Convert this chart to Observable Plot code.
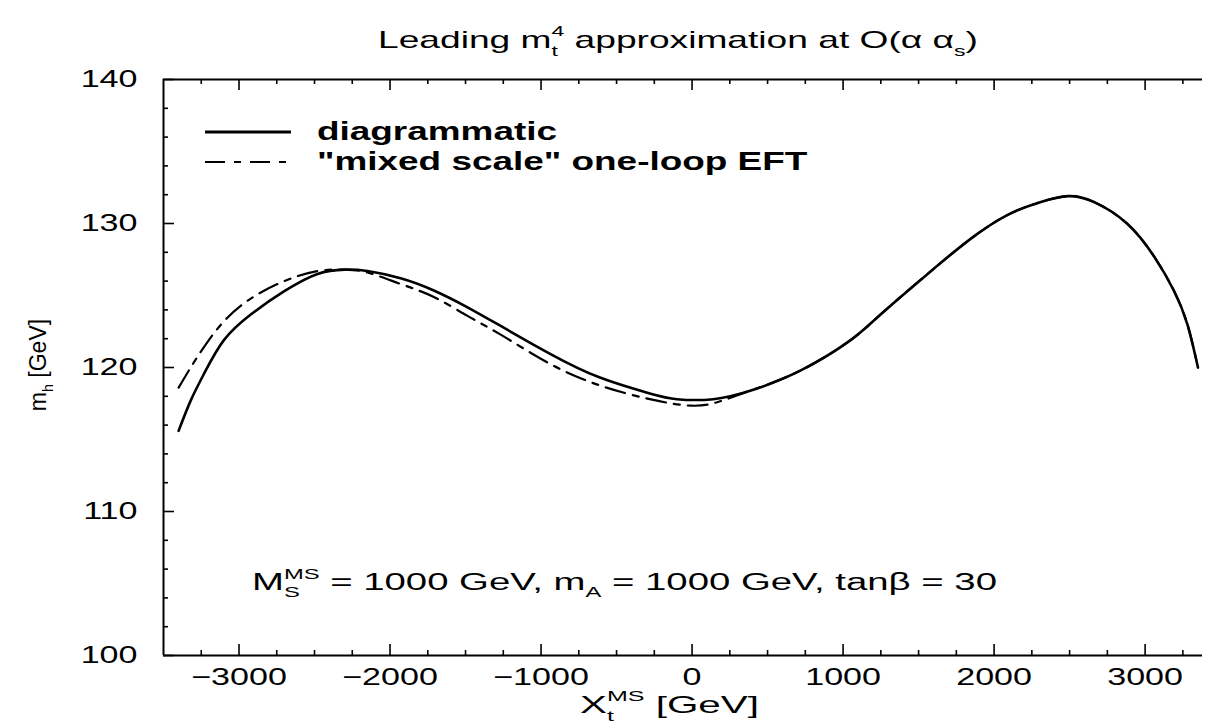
<!DOCTYPE html>
<html>
<head>
<meta charset="utf-8">
<script src="https://cdn.jsdelivr.net/npm/d3@7"></script>
<script src="https://cdn.jsdelivr.net/npm/@observablehq/plot@0.6"></script>
<style>
  body { margin: 0; background: #fff; }
  svg text { font-family: "Liberation Sans", Arial, Helvetica, sans-serif; }
</style>
</head>
<body>
<div id="chart"></div>
<script>
// Lightest Higgs mass m_h versus the stop mixing parameter X_t (MS-bar scheme)

// Full diagrammatic O(alpha alpha_s) result
const xDiag  = [-3400, -3320, -3230, -3100, -2920, -2700, -2480, -2300, -2150, -1930, -1710, -1490, -1270,
                -940, -610, -280, -100, 140, 390, 720, 1050, 1250, 1560, 1840, 2090, 2310, 2490, 2660,
                2880, 3060, 3190, 3280, 3350];
const mhDiag = [115.6, 117.7, 119.6, 121.9, 123.7, 125.3, 126.5, 126.8, 126.7, 126.2, 125.35, 124.2, 122.9,
                120.95, 119.3, 118.2, 117.8, 117.8, 118.4, 119.8, 121.9, 123.7, 126.5, 128.9, 130.6, 131.5, 131.9, 131.5,
                130.0, 127.7, 125.35, 123.0, 120.0];

// "Mixed scale" one-loop effective field theory result
const xEft  = [-3400, -3320, -3230, -3100, -2920, -2700, -2480, -2300, -2150, -1930, -1710, -1490, -1270,
               -940, -610, -280, -10, 170, 390, 720, 1050, 1250, 1560, 1840, 2090, 2310, 2490, 2660,
               2880, 3060, 3190, 3280, 3350];
const mhEft = [118.6, 120.0, 121.45, 123.2, 124.8, 126.0, 126.7, 126.8, 126.6, 125.8, 124.9, 123.6, 122.3,
               120.25, 118.75, 117.8, 117.35, 117.6, 118.4, 119.8, 121.9, 123.7, 126.5, 128.9, 130.6, 131.5, 131.9, 131.5,
               130.0, 127.7, 125.35, 123.0, 120.0];

// Axis ticks
const xMajor = [-3000, -2000, -1000, 0, 1000, 2000, 3000];
const xMinor = [-3250, -2750, -2500, -2250, -1750, -1500, -1250, -750, -500, -250,
                250, 500, 750, 1250, 1500, 1750, 2250, 2500, 2750, 3250];
const yMajor = [100, 110, 120, 130, 140];
const yMinor = [102, 104, 106, 108, 112, 114, 116, 118, 122, 124, 126, 128, 132, 134, 136, 138];

const seriesLabels = ["diagrammatic", "\"mixed scale\" one-loop EFT"];

const W = 1205, H = 725;
const mL = 163, mR = 3, mT = 79, mB = 70;
const fw = W - mL - mR, fh = H - mT - mB;
const majorLen = 11, minorLen = 5;

const diag = xDiag.map((x, i) => ({x, mh: mhDiag[i]}));
const eft  = xEft.map((x, i) => ({x, mh: mhEft[i]}));

const fmt = d => (d < 0 ? "\u2212" : "") + Math.abs(d);

const plot = Plot.plot({
  width: W, height: H,
  marginLeft: mL, marginRight: mR, marginTop: mT, marginBottom: mB,
  style: {fontSize: "24px", color: "#000", background: "#fff"},
  x: {domain: [-3500, 3380], ticks: xMajor, tickFormat: fmt, tickSize: 0, tickPadding: 12, label: null},
  y: {domain: [100, 140], ticks: yMajor, tickFormat: fmt, tickSize: 0, tickPadding: 26, label: null},
  marks: [
    // frame (right edge lies outside the drawing)
    Plot.ruleX([-3500], {strokeWidth: 2}),
    Plot.ruleY([100, 140], {strokeWidth: 2}),
    // inward ticks: left, bottom, top
    Plot.tickY(yMajor, {y: d => d, insetRight: fw - majorLen, strokeWidth: 1.6}),
    Plot.tickY(yMinor, {y: d => d, insetRight: fw - minorLen, strokeWidth: 1.6}),
    Plot.tickX(xMajor, {x: d => d, insetTop: fh - majorLen, strokeWidth: 1.6}),
    Plot.tickX(xMinor, {x: d => d, insetTop: fh - minorLen, strokeWidth: 1.6}),
    Plot.tickX(xMajor, {x: d => d, insetBottom: fh - majorLen, strokeWidth: 1.6}),
    Plot.tickX(xMinor, {x: d => d, insetBottom: fh - minorLen, strokeWidth: 1.6}),
    // curves
    Plot.line(eft, {x: "x", y: "mh", stroke: "#000", strokeWidth: 2.2,
                    strokeDasharray: "20,8,6,8", curve: "natural"}),
    Plot.line(diag, {x: "x", y: "mh", stroke: "#000", strokeWidth: 2.6, curve: "natural"})
  ]
});

document.getElementById("chart").appendChild(plot);
const svg = d3.select(plot);

// Text with sub/superscripts. parts: [text, kind] where kind is
// "" (normal), "sub", "sup", or "over" (superscript stacked above the previous subscript)
function richText(parent, parts, size, weight, anchor) {
  const t = parent.append("text")
    .attr("font-size", size).attr("font-weight", weight || "normal")
    .attr("text-anchor", anchor || "start").attr("fill", "#000");
  let off = 0, lastSub = null;
  for (const [str, kind] of parts) {
    const s = t.append("tspan").text(str);
    let target = 0;
    if (kind === "sub") { target = 0.32 * size; s.attr("font-size", 0.62 * size); }
    if (kind === "sup" || kind === "over") { target = -0.5 * size; s.attr("font-size", 0.62 * size); }
    if (target !== off) s.attr("dy", target - off);
    if (kind === "over" && lastSub) s.attr("dx", -lastSub.node().getComputedTextLength());
    off = target;
    lastSub = kind === "sub" ? s : null;
  }
  return t;
}

// Stretch glyphs horizontally so lettering has the wide look of the figure
function widen(sel, k) {
  sel.each(function () {
    const len = this.getComputedTextLength();
    if (len > 0) d3.select(this).attr("textLength", len * k).attr("lengthAdjust", "spacingAndGlyphs");
  });
  return sel;
}
function fitTo(sel, w) {
  sel.attr("textLength", w).attr("lengthAdjust", "spacingAndGlyphs");
  return sel;
}

// Tick labels
widen(svg.selectAll("g[aria-label='x-axis tick label'] text, g[aria-label='y-axis tick label'] text"), 1.42);

// Title
const title = svg.append("g").attr("transform", "translate(378,48)");
fitTo(richText(title, [["Leading m", ""], ["t", "sub"], ["4", "over"], [" approximation at O(α α", ""], ["s", "sub"], [")", ""]], 24), 600);

// Axis titles
const ylab = svg.append("g").attr("transform", "translate(46,365) rotate(-90)");
richText(ylab, [["m", ""], ["h", "sub"], [" [GeV]", ""]], 23, "normal", "middle");

const xlab = svg.append("g").attr("transform", "translate(580,713)");
fitTo(richText(xlab, [["X", ""], ["t", "sub"], ["MS", "over"], [" [GeV]", ""]], 24), 179);

// Parameter annotation
const ann = svg.append("g").attr("transform", "translate(252,590)");
fitTo(richText(ann, [["M", ""], ["S", "sub"], ["MS", "over"], [" = 1000 GeV, m", ""], ["A", "sub"], [" = 1000 GeV, tanβ = 30", ""]], 23), 745);

// Legend
const leg = svg.append("g");
leg.append("line").attr("x1", 205).attr("x2", 291).attr("y1", 132).attr("y2", 132)
  .attr("stroke", "#000").attr("stroke-width", 3);
leg.append("line").attr("x1", 205).attr("x2", 291).attr("y1", 162).attr("y2", 162)
  .attr("stroke", "#000").attr("stroke-width", 2).attr("stroke-dasharray", "20,9,7,9");
const l1 = richText(leg.append("g").attr("transform", "translate(317,140)"), [[seriesLabels[0], ""]], 26, "bold");
const l2 = richText(leg.append("g").attr("transform", "translate(317,170)"), [[seriesLabels[1], ""]], 26, "bold");
const k = 240 / l1.node().getComputedTextLength();
widen(l1, k);
widen(l2, k);
</script>
</body>
</html>
